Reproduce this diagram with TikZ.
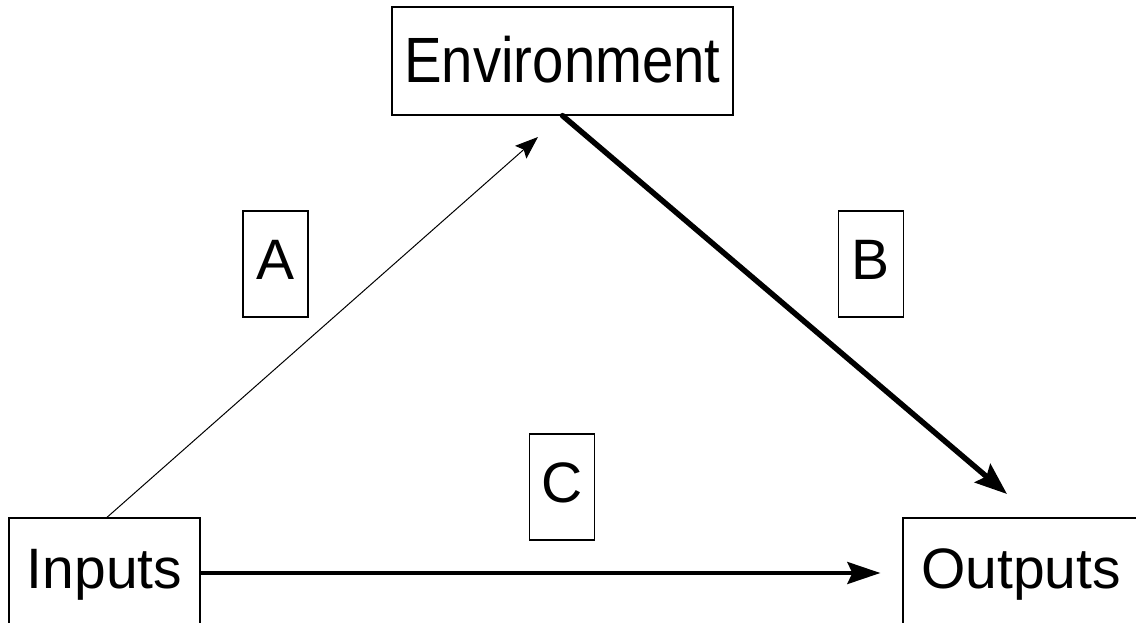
\documentclass[tikz,border=0pt]{standalone}
\usepackage{fontspec}
\setmainfont{Liberation Sans}
\usetikzlibrary{arrows.meta}
\begin{document}
\begin{tikzpicture}[x=1pt,y=-1pt,
  box/.style={draw, line width=1.3pt, inner sep=0pt, font=\fontsize{57}{60}\selectfont, text height=40pt, text depth=10pt},
  bigbox/.style={box, minimum height=110pt},
  letterbox/.style={box, minimum width=65pt, minimum height=106pt},
  thinarrow/.style={line width=1pt, -{Stealth[length=23pt,width=17pt,inset=4pt]}},
  thickarrow/.style={line width=5.5pt, line cap=round, -{Stealth[length=32pt,width=24pt,inset=5pt]}},
  midarrow/.style={line width=3.6pt, -{Stealth[length=33pt,width=22pt,inset=5pt]}}
]
\fill[white] (0,0) rectangle (1136,623);
\useasboundingbox (0,0) rectangle (1136,623);
\node[box, minimum width=341pt, minimum height=108pt, font=\fontsize{64}{66}\selectfont, text height=50pt, text depth=6pt] (env) at (562.5,61) {\scalebox{0.88}[1]{Environment}};
\node[bigbox, minimum width=191pt] (inputs) at (104.5,573) {Inputs};
\node[bigbox, minimum width=236pt] (outputs) at (1021,573) {Outputs};
\node[letterbox] (A) at (275.5,264) {A};
\node[letterbox] (B) at (871,264) {B};
\node[letterbox] (C) at (562,487) {C};
\coordinate (aend) at (538,137);
\coordinate (bend) at (1007,494);
\coordinate (cend) at ([xshift=-22pt]outputs.west);
\draw[thinarrow] ([xshift=2.5pt]inputs.north) -- (aend);
\draw[thickarrow] (env.south) -- (bend);
\draw[midarrow] (inputs.east) -- (cend);
\end{tikzpicture}
\end{document}
